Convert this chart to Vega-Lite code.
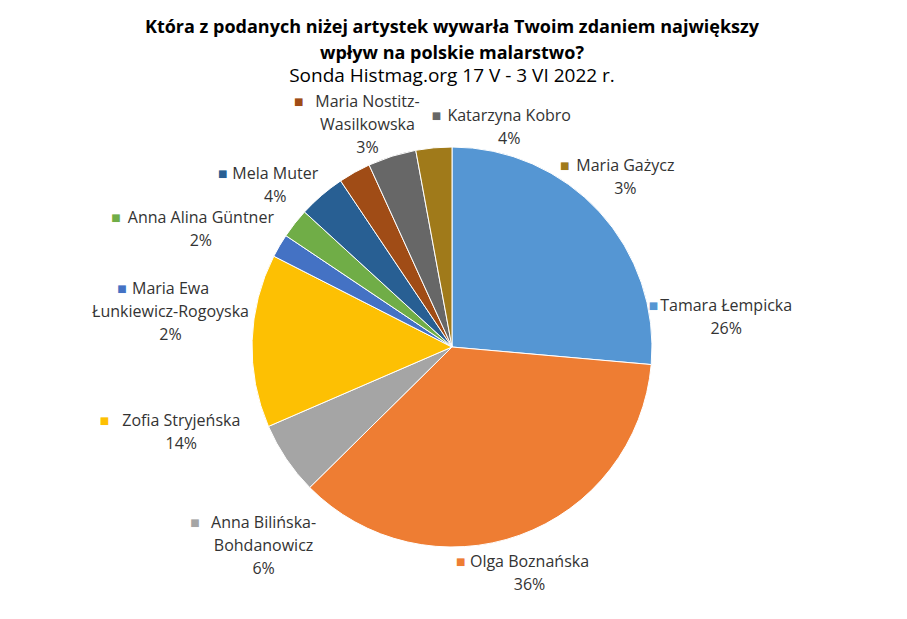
{
  "$schema": "https://vega.github.io/schema/vega-lite/v6.json",
  "width": 904,
  "height": 494,
  "autosize": {"type": "none"},
  "padding": {"left": 0, "top": 100, "right": 3, "bottom": 25},
  "background": "white",
  "config": {"view": {"stroke": null}},
  "title": {
    "text": ["Która z podanych niżej artystek wywarła Twoim zdaniem największy", "wpływ na polskie malarstwo?"],
    "subtitle": "Sonda Histmag.org 17 V - 3 VI 2022 r.",
    "anchor": "middle",
    "font": "Open Sans",
    "fontSize": 18,
    "fontWeight": "bold",
    "lineHeight": 26,
    "color": "#000000",
    "subtitleFont": "Open Sans",
    "subtitleFontSize": 19,
    "subtitleColor": "#000000",
    "subtitlePadding": 4,
    "offset": 8
  },
  "data": {
    "values": [
      {"order": 1, "name": "Tamara Łempicka", "share": 26.4},
      {"order": 2, "name": "Olga Boznańska", "share": 36.2},
      {"order": 3, "name": "Anna Bilińska-\nBohdanowicz", "share": 5.9},
      {"order": 4, "name": "Zofia Stryjeńska", "share": 14.0},
      {"order": 5, "name": "Maria Ewa\nŁunkiewicz-Rogoyska", "share": 1.9},
      {"order": 6, "name": "Anna Alina Güntner", "share": 2.4},
      {"order": 7, "name": "Mela Muter", "share": 3.8},
      {"order": 8, "name": "Maria Nostitz-\nWasilkowska", "share": 2.6},
      {"order": 9, "name": "Katarzyna Kobro", "share": 3.9},
      {"order": 10, "name": "Maria Gażycz", "share": 2.9}
    ]
  },
  "transform": [
    {"window": [{"op": "sum", "field": "share", "as": "cum"}], "sort": [{"field": "order"}], "frame": [null, 0]},
    {"calculate": "(datum.cum - datum.share/2)*3.6", "as": "midDeg"},
    {"calculate": "split(datum.name, '\\n')", "as": "lines"},
    {"calculate": "length(datum.lines[0])", "as": "len0"},
    {"calculate": "length(datum.lines) > 1 ? length(datum.lines[1]) : 0", "as": "len1"},
    {"calculate": "length(datum.lines) + 1", "as": "nl"},
    {"calculate": "max(datum.len0*8.3 + 20, datum.len1*8.3)", "as": "bw"},
    {"calculate": "datum.nl*23", "as": "bh"},
    {"calculate": "(datum.nl - 1)*23", "as": "nbh"},
    {"calculate": "datum.name + '\\n' + format(datum.share, '.0f') + '%'", "as": "label"},
    {"calculate": "(datum.midDeg + 216) % 360", "as": "key"},
    {"calculate": "datum.key + 144", "as": "u"},
    {"window": [{"op": "lag", "field": "bw", "param": 1, "as": "pw"}, {"op": "lag", "field": "bh", "param": 1, "as": "ph"}, {"op": "lag", "field": "u", "param": 1, "as": "pu"}], "sort": [{"field": "key"}]},
    {"calculate": "isValid(datum.pw) ? (datum.u + datum.pu)/2*PI/180 : 0", "as": "ga"},
    {"calculate": "isValid(datum.pw) ? min(((datum.bw + datum.pw)/2 + 6)/max(abs(cos(datum.ga)), 0.01), ((datum.bh + datum.ph)/2 + 12)/max(abs(sin(datum.ga)), 0.01))/270*180/PI : 0", "as": "g"},
    {"window": [{"op": "sum", "field": "g", "as": "S"}], "sort": [{"field": "key"}], "frame": [null, 0]},
    {"calculate": "datum.u - datum.S", "as": "a"},
    {"window": [{"op": "max", "field": "a", "as": "fmax"}], "sort": [{"field": "key"}], "frame": [null, 0]},
    {"window": [{"op": "min", "field": "a", "as": "bmin"}], "sort": [{"field": "key"}], "frame": [0, null]},
    {"calculate": "(datum.S + 0.7*datum.fmax + 0.3*datum.bmin)*PI/180", "as": "lt"},
    {"calculate": "abs(sin(datum.lt))", "as": "ls"},
    {"calculate": "abs(cos(datum.lt))", "as": "lc"},
    {"calculate": "datum.ls*datum.bw/2 + datum.lc*datum.nbh/2", "as": "B"},
    {"calculate": "datum.B + sqrt(datum.B*datum.B - datum.bw*datum.bw/4 - datum.nbh*datum.nbh/4 + 204*204)", "as": "d1"},
    {"calculate": "datum.d1*datum.ls >= datum.bw/2 ? (datum.d1*datum.lc >= datum.nbh/2 ? datum.d1 : (204 + datum.bw/2)/max(datum.ls, 0.001)) : (204 + datum.nbh/2)/max(datum.lc, 0.001)", "as": "dn"},
    {"calculate": "cos(datum.lt)*11.5*datum.nl", "as": "co"},
    {"calculate": "datum.co + sqrt(datum.co*datum.co - 132.25*datum.nl*datum.nl + 216*216)", "as": "dp"},
    {"calculate": "max(datum.dn, datum.dp)", "as": "lr"},
    {"calculate": "datum.lr*sin(datum.lt)", "as": "lx"},
    {"calculate": "-datum.lr*cos(datum.lt) - (datum.nl - 2)*11.5", "as": "ly"},
    {"calculate": "sqrt(datum.lx*datum.lx + datum.ly*datum.ly)", "as": "tr"},
    {"calculate": "atan2(datum.lx, -datum.ly)", "as": "tt"},
    {"calculate": "datum.lx - datum.len0*8.1/2 - 12", "as": "sx"},
    {"calculate": "sqrt(datum.sx*datum.sx + datum.ly*datum.ly)", "as": "sr"},
    {"calculate": "atan2(datum.sx, -datum.ly)", "as": "st"}
  ],
  "layer": [
    {
      "mark": {"type": "arc", "outerRadius": 200, "stroke": "white", "strokeWidth": 1},
      "encoding": {
        "theta": {"field": "share", "type": "quantitative", "stack": true},
        "order": {"field": "order", "type": "quantitative"},
        "color": {
          "field": "order",
          "type": "nominal",
          "scale": {
            "domain": [1, 2, 3, 4, 5, 6, 7, 8, 9, 10],
            "range": ["#5596D3", "#EE7D33", "#A5A5A5", "#FDC003", "#4472C4", "#70AD47", "#285F93", "#A04C16", "#676767", "#A07A1A"]
          },
          "legend": null
        }
      }
    },
    {
      "mark": {"type": "text", "font": "Open Sans", "fontSize": 16, "lineHeight": 23, "lineBreak": "\n", "align": "center", "baseline": "middle", "fill": "#333333"},
      "encoding": {
        "theta": {"field": "tt", "type": "quantitative", "scale": null},
        "radius": {"field": "tr", "type": "quantitative", "scale": null},
        "text": {"field": "label"}
      }
    },
    {
      "mark": {"type": "text", "text": "■", "font": "DejaVu Sans", "fontSize": 10, "align": "center", "baseline": "middle"},
      "encoding": {
        "theta": {"field": "st", "type": "quantitative", "scale": null},
        "radius": {"field": "sr", "type": "quantitative", "scale": null},
        "color": {"field": "order", "type": "nominal", "legend": null}
      }
    }
  ]
}
